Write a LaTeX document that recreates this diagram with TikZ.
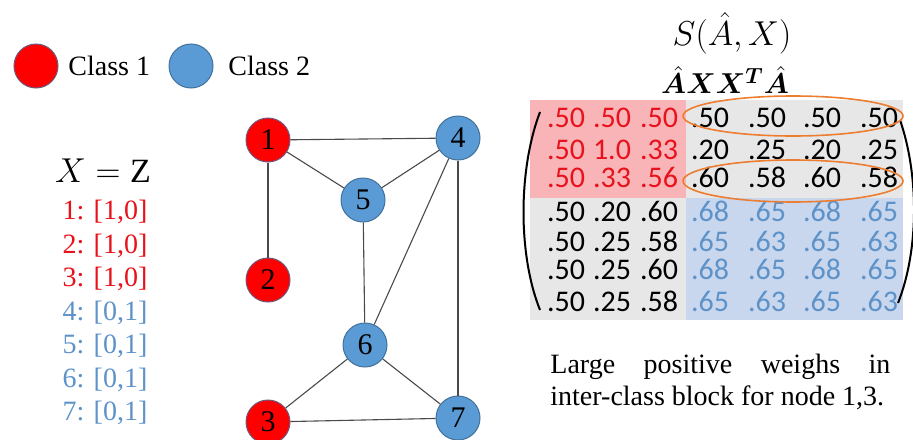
\documentclass[tikz,border=0pt]{standalone}
\definecolor{GRed}{HTML}{FF0000}
\definecolor{GRedRim}{HTML}{6E5A7E}
\definecolor{GBlue}{HTML}{5B9BD5}
\definecolor{GBlueRim}{HTML}{41719C}
\definecolor{GRedText}{HTML}{E8121C}
\definecolor{GBlueText}{HTML}{5E93C9}
\definecolor{GPink}{HTML}{F9B4B8}
\definecolor{GGray}{HTML}{E7E7E7}
\definecolor{GSky}{HTML}{C8D6EE}
\definecolor{GOrange}{HTML}{ED7D31}
\definecolor{GEdge}{HTML}{4A4A4A}
\usepackage{fontspec}
\setmainfont{Liberation Serif}
\newfontfamily\calibfont{Carlito}
\usepackage{amsmath,bm}
\usepackage{tikz}
\usetikzlibrary{shapes.geometric,calc}
\newcommand{\fsz}[1]{\fontsize{#1}{#1}\selectfont}
\tikzset{
  gnode/.style={circle,minimum size=22pt,inner sep=0pt,line width=0.5pt,
                font=\fsz{15}},
  rednode/.style={gnode,fill=GRed,draw=GRedRim},
  bluenode/.style={gnode,fill=GBlue,draw=GBlueRim},
  gedge/.style={draw=GEdge,line width=0.55pt},
  legtext/.style={anchor=base west,inner sep=0pt,font=\fsz{14}},
  featline/.style={anchor=base,inner sep=0pt,font=\fsz{14}},
  cellnum/.style={anchor=base,inner sep=0pt,font=\calibfont\fsz{15}},
  ring/.style={ellipse,draw=GOrange,line width=0.8pt,inner sep=0pt,
               minimum width=110pt}
}

\begin{document}
\begin{tikzpicture}[x=0.5pt,y=-0.5pt]
  \useasboundingbox (0,0) rectangle (913,439);

  % legend
  \node[rednode] (leg1) at (36,66) {};
  \node[legtext] (leg1txt) at (68,75) {Class 1};
  \node[bluenode] (leg2) at (191,66) {};
  \node[legtext] (leg2txt) at (228,75) {Class 2};

  % features
  \node[inner sep=0pt,font=\fsz{17}] (xz) at (103,171) {$X = \mathrm{Z}$};
  \foreach \lab/\vec [count=\i] in {1/{[1,0]},2/{[1,0]},3/{[1,0]},4/{[0,1]},%
                                   5/{[0,1]},6/{[0,1]},7/{[0,1]}} {
    \ifnum\i<4 \def\fcol{GRedText}\else\def\fcol{GBlueText}\fi
    \node[featline,text=\fcol] (feat\i) at (105,{211+33.5*(\i-1)+8.5}) {\lab: \vec};
  }

  % graph
  \node[rednode] (n1) at (268,140) {1};
  \node[rednode] (n2) at (268,280) {2};
  \node[rednode] (n3) at (268,422) {3};
  \node[bluenode] (n4) at (458,138) {4};
  \node[bluenode] (n5) at (363,200) {5};
  \node[bluenode] (n6) at (365,345) {6};
  \node[bluenode] (n7) at (458,418) {7};
  \foreach \a/\b in {1/4,1/5,1/2,5/4,5/6,6/4,4/7,6/3,6/7,3/7}
    \draw[gedge] (n\a) -- (n\b);

  % similarity matrix
  \node[inner sep=0pt,font=\fsz{17}] (stitle) at (732,33) {$S(\hat{A},X)$};
  \node[inner sep=0pt,font=\fsz{15}] (ptitle) at (725,80) {$\bm{\hat{A}XX^{T}\hat{A}}$};
  \fill[GGray] (530,100) rectangle (903,320);
  \fill[GPink] (530,100) rectangle (686,198);
  \fill[GSky] (686,198) rectangle (903,320);
  \foreach \rowvals [count=\r] in {%
      {.50,.50,.50,.50,.50,.50,.50},
      {.50,1.0,.33,.20,.25,.20,.25},
      {.50,.33,.56,.60,.58,.60,.58},
      {.50,.20,.60,.68,.65,.68,.65},
      {.50,.25,.58,.65,.63,.65,.63},
      {.50,.25,.60,.68,.65,.68,.65},
      {.50,.25,.58,.65,.63,.65,.63}} {
    \foreach \v [count=\c] in \rowvals {
      \def\ccol{black}
      \ifnum\r<4 \ifnum\c<4 \def\ccol{GRedText}\fi\fi
      \ifnum\r>3 \ifnum\c>3 \def\ccol{GBlueText}\fi\fi
      \pgfmathsetmacro{\cx}{{566,612,659,710,767,822,879}[\c-1]}
      \pgfmathsetmacro{\cy}{{118,150,178,212,242,270,302}[\r-1]+9.5}
      \node[cellnum,text=\ccol] (m-\r-\c) at (\cx,\cy) {\v};
    }
  }
  \draw[line width=1pt] (540,112) .. controls (518,170) and (518,255) .. (540,310);
  \draw[line width=1pt] (900,120) .. controls (919,175) and (919,250) .. (898,303);
  \node[ring,minimum height=20pt] (ring1) at (793,116) {};
  \node[ring,minimum height=21pt] (ring2) at (793,181) {};

  % note
  \node[anchor=base west,inner sep=0pt,align=left,font=\fontsize{14}{16}\selectfont]
    (note) at (550,405)
    {\makebox[170pt][s]{Large positive weighs in}\\inter-class block for node 1,3.};
\end{tikzpicture}
\end{document}
